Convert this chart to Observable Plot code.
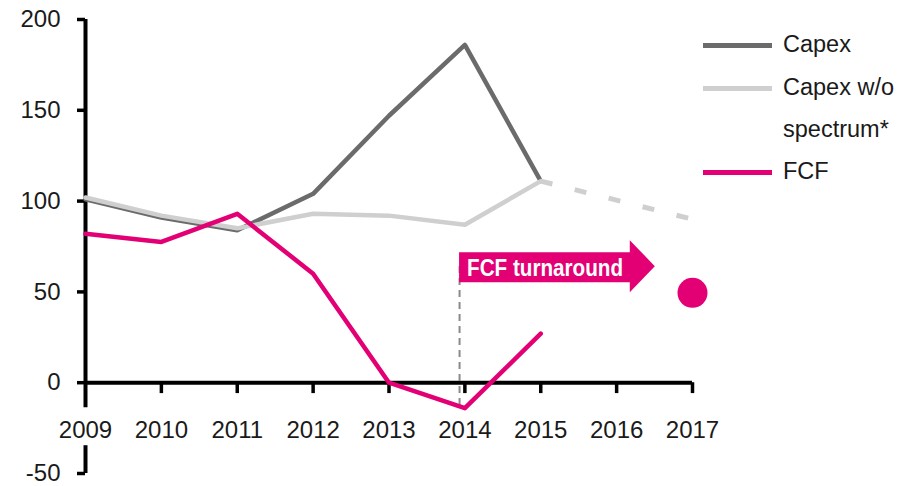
<!DOCTYPE html>
<html>
<head>
<meta charset="utf-8">
<script src="https://cdn.jsdelivr.net/npm/d3@7"></script>
<script src="https://cdn.jsdelivr.net/npm/@observablehq/plot@0.6"></script>
<style>
  html, body { margin: 0; padding: 0; background: #fff; }
  #wrap { position: relative; width: 902px; height: 486px; font-family: "Liberation Sans", Arial, sans-serif; }
  .lg-line { position: absolute; left: 703px; width: 69px; height: 5px; }
  .lg-text { position: absolute; left: 783px; font-size: 23.5px; color: #1a1a1a; line-height: 1; white-space: nowrap; }
</style>
</head>
<body>
<div id="wrap"></div>
<script>
// ---- data ----
const years = [2009, 2010, 2011, 2012, 2013, 2014, 2015, 2016, 2017];
const histYears = [2009, 2010, 2011, 2012, 2013, 2014, 2015];
const capex = [101, 91, 84, 104, 147, 186, 111];
const capexNoSpectrum = [102, 92, 85, 93, 92, 87, 111];
const forecastYears = [2015, 2017];
const capexNoSpectrumForecast = [111, 90];
const fcf = [82, 77.5, 93, 60, 0, -14, 27];
const fcfTargetYear = [2017];
const fcfTarget = [49.5];
const yTicks = [-50, 0, 50, 100, 150, 200];
const seriesNames = ["Capex", "Capex w/o spectrum*", "FCF"];
const colors = {capex: "#6b6b6b", noSpectrum: "#cfcfcf", fcf: "#e20074"};
// annotation (x in years, y in index values)
const arrowLabel = "FCF turnaround";
const arrowAnno = {x0: 2013.93, xBody: 2016.18, xTip: 2016.51, yBodyTop: 71.6, yBodyBottom: 55.1, yHeadTop: 78.2, yHeadBottom: 49.6, yMid: 63.9};
const markerLine = {x: 2013.93, y1: 64, y2: -12.7};
const axisBreak = [-13.8, -34.7];

const histRows = (vals) => histYears.map((y, i) => ({year: y, value: vals[i]}));

function arrowMark(index, scales) {
  const x = scales.x, y = scales.y;
  const a = arrowAnno;
  const pts = [
    [x(a.x0), y(a.yBodyTop)], [x(a.xBody), y(a.yBodyTop)], [x(a.xBody), y(a.yHeadTop)],
    [x(a.xTip), y(a.yMid)], [x(a.xBody), y(a.yHeadBottom)], [x(a.xBody), y(a.yBodyBottom)],
    [x(a.x0), y(a.yBodyBottom)]
  ];
  const ns = "http://www.w3.org/2000/svg";
  const g = document.createElementNS(ns, "g");
  const p = document.createElementNS(ns, "path");
  p.setAttribute("d", "M" + pts.map(d => d.join(",")).join("L") + "Z");
  p.setAttribute("fill", colors.fcf);
  g.appendChild(p);
  const t = document.createElementNS(ns, "text");
  t.setAttribute("x", x(a.x0) + 8);
  t.setAttribute("y", (y(a.yBodyTop) + y(a.yBodyBottom)) / 2);
  t.setAttribute("dy", "0.36em");
  t.setAttribute("text-anchor", "start");
  t.setAttribute("fill", "#fff");
  t.setAttribute("font-weight", "bold");
  t.setAttribute("font-size", "24px");
  t.setAttribute("font-family", "'Liberation Sans', Arial, sans-serif");
  t.setAttribute("textLength", "156");
  t.setAttribute("lengthAdjust", "spacingAndGlyphs");
  t.textContent = arrowLabel;
  g.appendChild(t);
  return g;
}

const chart = Plot.plot({
  width: 902,
  height: 486,
  marginLeft: 85,
  marginRight: 210,
  marginTop: 19,
  marginBottom: 13,
  style: {fontSize: "24px", fontFamily: "'Liberation Sans', Arial, sans-serif", color: "#1a1a1a", background: "transparent"},
  x: {domain: [2009, 2017], axis: null},
  y: {domain: [-50, 200], axis: null},
  marks: [
    Plot.axisY({ticks: yTicks, tickSize: 8, tickPadding: 17, strokeWidth: 3.5, stroke: "#000", fill: "#1a1a1a", tickFormat: d => String(d)}),
    Plot.axisX({anchor: "bottom", ticks: years, tickSize: 0, tickPadding: 0, dy: -53, fill: "#1a1a1a", tickFormat: d => String(d)}),
    Plot.ruleX([2009], {y1: 200, y2: axisBreak[0], stroke: "#000", strokeWidth: 4}),
    Plot.ruleX([2009], {y1: axisBreak[1], y2: -50, stroke: "#000", strokeWidth: 4}),
    Plot.ruleY([0], {x1: 2009, x2: 2017, stroke: "#000", strokeWidth: 4}),
    Plot.ruleX(years.slice(1), {x: d => d, y1: 0, y2: -6, stroke: "#000", strokeWidth: 3.5}),
    Plot.line(histRows(capex), {x: "year", y: "value", stroke: colors.capex, strokeWidth: 4.5}),
    Plot.line(histRows(capexNoSpectrum), {x: "year", y: "value", stroke: colors.noSpectrum, strokeWidth: 4.5}),
    Plot.line(forecastYears.map((y, i) => ({year: y, value: capexNoSpectrumForecast[i]})), {x: "year", y: "value", stroke: colors.noSpectrum, strokeWidth: 5, strokeDasharray: "12,23", strokeLinecap: "butt"}),
    Plot.ruleX([markerLine], {x: "x", y1: "y1", y2: "y2", stroke: "#8a8a8a", strokeWidth: 2, strokeDasharray: "7,5"}),
    Plot.line(histRows(fcf), {x: "year", y: "value", stroke: colors.fcf, strokeWidth: 4.5}),
    Plot.dot(fcfTargetYear.map((y, i) => ({year: y, value: fcfTarget[i]})), {x: "year", y: "value", r: 15, fill: colors.fcf, stroke: "none"}),
    arrowMark
  ]
});

const wrap = document.getElementById("wrap");
wrap.appendChild(chart);

// legend (HTML overlay in the right margin)
const legendItems = [
  {color: colors.capex, lines: [seriesNames[0]], top: 45},
  {color: colors.noSpectrum, lines: ["Capex w/o", "spectrum*"], top: 88},
  {color: colors.fcf, lines: [seriesNames[2]], top: 172}
];
legendItems.forEach(item => {
  const ln = document.createElement("div");
  ln.className = "lg-line";
  ln.style.top = (item.top - 2.5) + "px";
  ln.style.background = item.color;
  wrap.appendChild(ln);
  item.lines.forEach((txt, j) => {
    const t = document.createElement("div");
    t.className = "lg-text";
    t.style.top = (item.top - 12 + j * 42) + "px";
    t.textContent = txt;
    wrap.appendChild(t);
  });
});
</script>
</body>
</html>
